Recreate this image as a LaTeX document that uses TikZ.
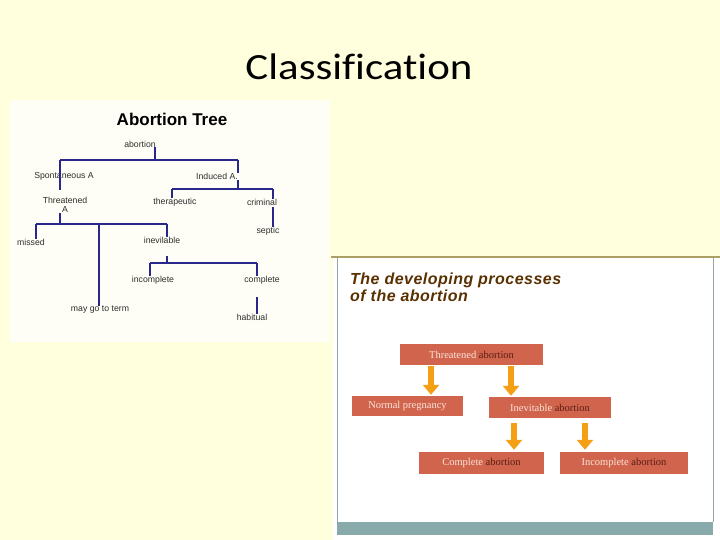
\documentclass[tikz,border=0pt]{standalone}
\usepackage{fontspec}
\setmainfont{Liberation Serif}
\setsansfont{Liberation Sans}
\newfontfamily\slidefont[Ligatures=NoCommon]{Carlito}
\usetikzlibrary{arrows.meta}
\definecolor{SlideBg}{RGB}{255,255,221}
\definecolor{PanelClr}{RGB}{254,254,246}
\definecolor{TreeClr}{RGB}{40,40,140}
\definecolor{TreeText}{RGB}{45,45,45}
\definecolor{RuleClr}{RGB}{170,160,100}
\definecolor{FrameClr}{RGB}{150,165,175}
\definecolor{BandClr}{RGB}{137,170,170}
\definecolor{BoxClr}{RGB}{209,100,76}
\definecolor{BoxLight}{RGB}{250,228,218}
\definecolor{BoxDark}{RGB}{90,30,20}
\definecolor{ArrowClr}{RGB}{245,160,20}
\definecolor{HeadClr}{RGB}{90,48,0}

\begin{document}
\begin{tikzpicture}[x=1pt,y=-1pt,
  treelabel/.style={font=\sffamily\fontsize{8.7}{9.5}\selectfont,text=TreeText,inner sep=0pt},
  treeline/.style={line width=1.5pt,draw=TreeClr},
  stagebox/.style={fill=BoxClr,inner sep=0pt,text=BoxLight,
    font=\fontsize{10.5}{11}\selectfont},
  flowarrow/.style={draw=ArrowClr,line width=6pt,
    -{Triangle[width=16pt,length=10pt]},shorten <=1pt,shorten >=1pt}]
\useasboundingbox (0,0) rectangle (720,540);
\fill[SlideBg] (0,0) rectangle (720,540);

% slide title
\node (title) at (359,67) {\slidefont\fontsize{37}{40}\selectfont\scalebox{1.16}[1]{Classification}};

% left panel: abortion tree
\fill[PanelClr] (10,100) rectangle (330,342);
\node[font=\sffamily\bfseries\fontsize{17}{19}\selectfont] (treetitle) at (172,119) {Abortion Tree};

\node[treelabel] (abortion) at (140,144) {abortion};
\node[treelabel] (spont) at (64,176) {Spontaneous A};
\node[treelabel] (induced) at (217,176) {Induced A.};
\node[treelabel,align=center] (threat) at (65,205) {Threatened\\A};
\node[treelabel] (thera) at (175,202) {therapeutic};
\node[treelabel] (crim) at (262,202) {criminal};
\node[treelabel] (septic) at (268,231) {septic};
\node[treelabel] (missed) at (31,242) {missed};
\node[treelabel] (inev) at (162,240) {inevilable};
\node[treelabel] (incompl) at (153,280) {incomplete};
\node[treelabel] (compl) at (262,280) {complete};
\node[treelabel] (term) at (100,310) {may go to term};
\node[treelabel] (habit) at (252,317) {habitual};

% junctions of the tree
\coordinate (jA) at (155,160);
\coordinate (jS) at (60,160);
\coordinate (jI) at (238,160);
\coordinate (jIb) at (238,189);
\coordinate (jTh) at (172,189);
\coordinate (jCr) at (273,189);
\coordinate (jT) at (60,224);
\coordinate (jM) at (36,224);
\coordinate (jG) at (99,224);
\coordinate (jV) at (167,224);
\coordinate (jVb) at (167,263);
\coordinate (jIc) at (150,263);
\coordinate (jC) at (257,263);

\draw[treeline] (abortion.south -| jA) -- (jA);
\draw[treeline] (jS) -- (jI);
\draw[treeline] (jS) -- ++(0,30);
\draw[treeline] (jS |- threat.south) -- (jT);
\draw[treeline] (jI) -- (induced.north -| jI);
\draw[treeline] (induced.south -| jI) ++(0,1) -- (jIb);
\draw[treeline] (jTh) -- (jCr);
\draw[treeline] (jTh) -- (thera.north -| jTh);
\draw[treeline] (jCr) -- (crim.north -| jCr);
\draw[treeline] (crim.south -| jCr) ++(0,2) -- (septic.north -| jCr);
\draw[treeline] (jM) -- (jV);
\draw[treeline] (jM) -- (missed.north -| jM);
\draw[treeline] (jG) -- (term.north -| jG);
\draw[treeline] (jV) -- (inev.north -| jV);
\draw[treeline] (inev.south -| jVb) ++(0,13) -- (jVb);
\draw[treeline] (jIc) -- (jC);
\draw[treeline] (jIc) -- (incompl.north -| jIc);
\draw[treeline] (jC) -- (compl.north -| jC);
\draw[treeline] (compl.south -| jC) ++(0,13) -- (habit.north -| jC);

% right panel: developing processes
\fill[white] (333,257) rectangle (720,540);
\draw[RuleClr,line width=2pt] (331,257) -- (720,257);
\draw[FrameClr,line width=1pt] (337,258) -- (337,522);
\draw[FrameClr,line width=1pt] (713,258) -- (713,522);
\fill[BandClr] (337,522) rectangle (713,535);

\node[anchor=west,align=left,inner sep=0pt,text=HeadClr,
  font=\sffamily\bfseries\itshape\addfontfeature{LetterSpace=3}\fontsize{16}{17}\selectfont]
  (head) at (350,287.5) {The developing processes\\of the abortion};

\node[stagebox,minimum width=143pt,minimum height=21pt] (thr) at (471.5,354.5)
  {Threatened \textcolor{BoxDark}{abortion}};
\node[stagebox,minimum width=111pt,minimum height=20pt] (normal) at (407.5,406)
  {Normal pregnancy};
\node[stagebox,minimum width=122pt,minimum height=21pt] (inevit) at (550,407.5)
  {Inevitable \textcolor{BoxDark}{abortion}};
\node[stagebox,minimum width=125pt,minimum height=22pt] (complete) at (481.5,463)
  {Complete \textcolor{BoxDark}{abortion}};
\node[stagebox,minimum width=128pt,minimum height=22pt] (incomplete) at (624,463)
  {Incomplete \textcolor{BoxDark}{abortion}};

\coordinate (c1) at (431,0);
\coordinate (c2) at (511,0);
\coordinate (c3) at (514,0);
\coordinate (c4) at (585,0);
\draw[flowarrow] (thr.south -| c1) -- (normal.north -| c1);
\draw[flowarrow] (thr.south -| c2) -- (inevit.north -| c2);
\draw[flowarrow] ([yshift=-4pt]inevit.south -| c3) -- ([yshift=1pt]complete.north -| c3);
\draw[flowarrow] ([yshift=-4pt]inevit.south -| c4) -- ([yshift=1pt]incomplete.north -| c4);
\end{tikzpicture}
\end{document}
